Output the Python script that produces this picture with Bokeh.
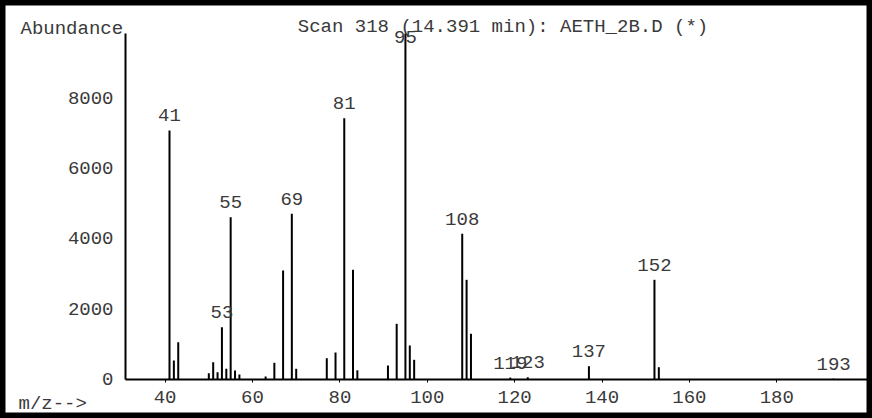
import numpy as np
from bokeh.plotting import figure
from bokeh.models import ColumnDataSource, LabelSet, Label, FixedTicker, Range1d
from bokeh.embed import file_html
from bokeh.resources import INLINE
from bokeh.core.properties import value

# ---- data ----
mz = [41, 42, 43, 50, 51, 52, 53, 54, 55, 56, 57, 63, 65, 67, 69, 70, 77, 79, 81, 83, 84,
      91, 93, 95, 96, 97, 108, 109, 110, 119, 123, 137, 152, 153, 193]
abundance = [7070, 526, 1047, 165, 478, 193, 1474, 290, 4603, 242, 128, 71, 461, 3087, 4700, 290,
             592, 754, 7420, 3107, 247, 384, 1570, 9830, 953, 546, 4131, 2822, 1286, 40, 50,
             364, 2822, 336, 10]
labeled_mz = [41, 53, 55, 69, 81, 95, 108, 119, 123, 137, 152, 193]
x_ticks = [40, 60, 80, 100, 120, 140, 160, 180]
y_ticks = [0, 2000, 4000, 6000, 8000]
title_text = "Scan 318 (14.391 min): AETH_2B.D (*)"
y_axis_text = "Abundance"
x_axis_text = "m/z-->"

FONT = "Liberation Mono"
FS = "19px"
TXT = "#3a3a3a"

W, H = 872, 418
px_per_mz = 4.369
units_per_px = 2000 / 70.3
axis_px_x = 125          # y axis position in canvas px
peak41_px = 169
base_px_from_bottom = 39.5
x_start = 41 - peak41_px / px_per_mz
x_end = x_start + W / px_per_mz
x_axis_start = 41 - (peak41_px - axis_px_x) / px_per_mz
y_start = -base_px_from_bottom * units_per_px
y_end = (H - base_px_from_bottom) * units_per_px

p = figure(width=W, height=H, output_backend="svg", toolbar_location=None,
           x_range=Range1d(x_start, x_end), y_range=Range1d(y_start, y_end),
           min_border_left=0, min_border_right=0, min_border_top=0, min_border_bottom=0)
p.grid.visible = False
p.background_fill_color = "white"
p.border_fill_color = "white"
p.outline_line_color = "black"
p.outline_line_width = 10

for ax in (p.xaxis, p.yaxis):
    ax.axis_line_color = "black"
    ax.axis_line_width = 2
    ax.major_label_text_font = FONT
    ax.major_label_text_font_size = FS
    ax.major_label_text_color = TXT
    ax.minor_tick_line_color = None
    ax.major_tick_in = 0

p.xaxis.ticker = FixedTicker(ticks=x_ticks)
p.xaxis.fixed_location = 0
p.xaxis.bounds = (x_axis_start, x_end)
p.xaxis.major_tick_out = 3
p.xaxis.major_tick_line_width = 1
p.xaxis.major_label_standoff = 9

p.yaxis.ticker = FixedTicker(ticks=y_ticks)
p.yaxis.fixed_location = x_axis_start
p.yaxis.bounds = (0, max(abundance))
p.yaxis.major_tick_out = 0
p.yaxis.major_tick_line_color = None
p.yaxis.major_label_standoff = 12

src = ColumnDataSource(dict(mz=mz, ab=abundance))
p.segment(x0="mz", y0=0, x1="mz", y1="ab", source=src, line_color="black", line_width=2)

ab_map = dict(zip(mz, abundance))
cap = 9300
lab_src = ColumnDataSource(dict(
    x=labeled_mz,
    y=[min(ab_map[m], cap) for m in labeled_mz],
    t=[str(m) for m in labeled_mz],
))
p.add_layout(LabelSet(x="x", y="y", text="t", source=lab_src, y_offset=9,
                      text_align="center", text_baseline="alphabetic",
                      text_font=value(FONT), text_font_size=value(FS), text_color=TXT))

# texts placed in the plot area (screen px from the bottom-left)
p.add_layout(Label(x=502.5, y=H - 26.7, x_units="screen", y_units="screen", text=title_text,
                   text_align="center", text_baseline="alphabetic",
                   text_font=FONT, text_font_size=FS, text_color=TXT))
p.add_layout(Label(x=20, y=H - 28, x_units="screen", y_units="screen", text=y_axis_text,
                   text_align="left", text_baseline="alphabetic",
                   text_font=FONT, text_font_size=FS, text_color=TXT))
p.add_layout(Label(x=18, y=H - 403, x_units="screen", y_units="screen", text=x_axis_text,
                   text_align="left", text_baseline="alphabetic",
                   text_font=FONT, text_font_size=FS, text_color=TXT))

open("out.html", "w").write(file_html(p, INLINE))
